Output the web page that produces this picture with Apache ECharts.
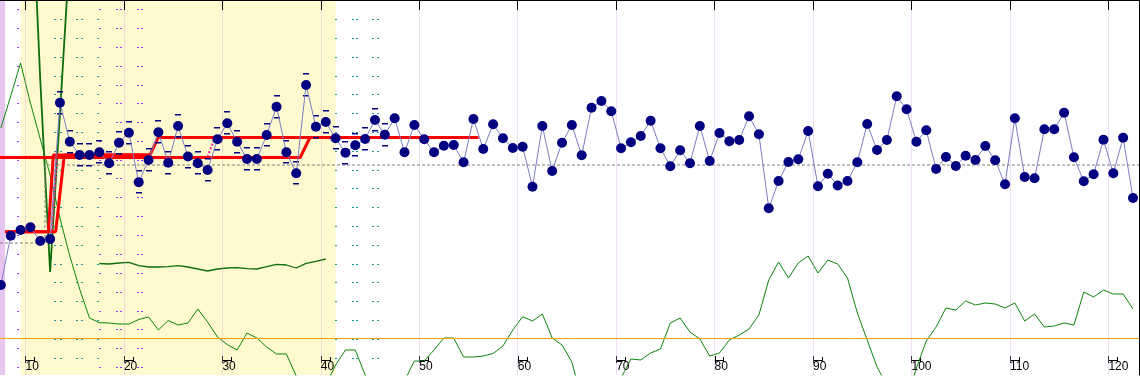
<!DOCTYPE html>
<html><head><meta charset="utf-8">
<script src="https://cdn.jsdelivr.net/npm/echarts@6/dist/echarts.min.js"></script>
<style>html,body{margin:0;padding:0;background:#fff;}#c{width:1140px;height:376px;}</style>
</head><body><div id="c"></div>
<script>
// ---- data (y values in chart units, axis is inverted) ----
const firstPoint = 7;               // id of first plotted point
const values = [
  285, 235.7, 230, 227.3, 241, 239, 102.7, 141.7, 155, 155,
  152.3, 163.3, 142.7, 132.7, 182.3, 160, 132.3, 162.7, 126, 156.5,
  163.3, 170, 139.3, 123.3, 141.7, 159, 159, 135, 106.7, 152.3,
  173.3, 85, 126.7, 122, 138.3, 152.7, 145.3, 139, 120, 134.7,
  118.3, 152.3, 125, 139.3, 152.3, 145.7, 145, 162.3, 119, 149,
  124.3, 138.3, 148, 146.7, 186.7, 126, 171, 142.7, 125, 155.3,
  107.7, 101, 111.2, 148.2, 142.2, 136, 120.7, 148.3, 166.3, 150.3,
  163.3, 126, 161, 133, 141.3, 140, 116.3, 134.3, 208.3, 181,
  162, 159.3, 131, 186.3, 173.7, 185.5, 181, 162.3, 124, 150,
  140, 96.3, 109.3, 141.7, 130.3, 169, 157, 166, 155.7, 160,
  146, 160.3, 184.3, 118.3, 177, 178.3, 129.3, 129.3, 112.7, 157.3,
  181.3, 174.3, 139.7, 173.3, 137.7, 198
];
const errorBarFirst = 13, errorBarLast = 46;

const lowerGreenFirst = 7;
const lowerGreen = [
  128, 96, 63, 103, 139, 175, 218, 256, 289, 318,
  322.7, 323, 324, 324, 319.5, 317, 330, 320.5, 325, 323,
  309, 322, 337, 344.6, 350, 333, 338, 347, 354, 354,
  376, 400, 395, 385, 365, 350, 350, 375, 400, 420,
  410, 381, 361, 361, 350, 338, 338, 357, 357, 356,
  353.5, 346, 330, 316.7, 321, 314, 338, 345, 362, 400,
  420, 420, 400, 378, 359, 360, 353, 349, 323, 318,
  332, 339, 356, 353, 340, 335, 329, 315, 280, 262,
  278, 263, 256, 273, 260, 264, 278, 313, 340, 367,
  385, 410, 400, 368, 341, 327, 308, 310, 301, 305,
  303, 304, 308, 303, 321, 314, 327, 326, 323, 325,
  292, 297, 290, 294, 294, 309
];
const midGreenFirst = 17;
const midGreen = [263.5, 264, 263, 262.3, 265.7, 267, 267, 266.7, 265.7, 267,
  269, 271, 269, 268, 267.7, 268.7, 269, 266.7, 264.3, 265, 268, 263.3, 261.3, 259];
const spikeGreenFirst = 10;
const spikeGreen = [-143, 80, 272, 114, -50];

// step / level lines: [position, level]
const redLevelA = [[7.92,231.7],[12.32,231.7],[12.83,155],[22.65,155],[23.47,137.5],[56,137.5]];
const redLevelB = [[7.41,157.5],[37.9,157.5],[38.9,137.5],[56,137.5]];
const redLevelC = [[7.92,231.7],[13.07,231.7],[13.94,155],[22.65,155]];
const pinkLevel = [[7.92,231.7],[12.66,231.7],[13.2,157.5],[28.45,157.5],[29.25,137.5],[56,137.5]];
const grayLevel = [[7.41,243],[11.98,243],[11.98,165],[123.11,165]];
const orangeLimit = 338.5;

const tickValues = [10,20,30,40,50,60,70,80,90,100,110,120];
const shadedRange = [9.5, 41.5];
const edgeRange = [7.41, 7.92];
const xMin = 7.41, xMax = 123.11;

// decorative minor marks
const purpleCols = [9.24, 17.52, 19.3, 19.7, 21.38, 21.84];
const tealCols = [13.0, 13.56, 15.23, 15.69, 17.4, 41.5, 43.25, 43.66, 45.35, 45.85];
const purpleRows = [9,28,47,66,85,103,122,141,160,178,197,216,235,254,273,292,311,329,348,367];
const tealRows = [19,38,57,76,94,113,132,151,170,188,207,226,245,264,282,301,320,339,358];

// ---- build ----
const toPts = (first, arr) => arr.map((v, i) => [first + i + 0.5, v]);
const mainPts = toPts(firstPoint, values);
const errPts = mainPts.filter((p, i) => firstPoint + i >= errorBarFirst && firstPoint + i <= errorBarLast);
const marks = [];
purpleCols.forEach(c => purpleRows.forEach(r => marks.push([c, r, 0])));
tealCols.forEach(c => tealRows.forEach(r => marks.push([c, r, 1])));

const chart = echarts.init(document.getElementById('c'), null, {renderer: 'canvas'});
const lineBase = {type: 'line', symbol: 'none', silent: true, animation: false};
chart.setOption({
  animation: false,
  grid: {left: 0, top: 0, width: 1139, height: 375, containLabel: false},
  xAxis: [{
    type: 'value', min: xMin, max: xMax, position: 'bottom', z: 20,
    axisLine: {show: true, lineStyle: {color: '#000', width: 1}},
    axisTick: {show: false},
    splitLine: {show: false},
    axisLabel: {show: true, inside: true, customValues: tickValues, align: 'left', margin: 2,
      fontSize: 12, color: '#000', fontFamily: 'Liberation Sans, Arial, sans-serif'}
  }, {
    type: 'value', min: xMin, max: xMax, position: 'top', z: 20,
    axisLine: {show: true, lineStyle: {color: '#000', width: 1}},
    axisTick: {show: true, inside: true, length: 10, customValues: tickValues, lineStyle: {color: '#000'}},
    axisLabel: {show: false}, splitLine: {show: false}
  }],
  yAxis: {
    type: 'value', min: 0, max: 375, inverse: true, position: 'right', z: 20,
    axisLine: {show: true, lineStyle: {color: '#000', width: 1}},
    axisTick: {show: false}, axisLabel: {show: false}, splitLine: {show: false}
  },
  series: [
    { ...lineBase, name: 'bg', data: [], z: 0,
      markArea: {silent: true, itemStyle: {opacity: 1}, data: [
        [{xAxis: shadedRange[0], itemStyle: {color: '#fff9cf'}}, {xAxis: shadedRange[1]}],
        [{xAxis: edgeRange[0], itemStyle: {color: '#e6c6ef'}}, {xAxis: edgeRange[1]}]
      ]}
    },
    { ...lineBase, name: 'grid', data: [], z: 1,
      markLine: {silent: true, symbol: ['none','none'], label: {show: false}, animation: false,
        data: tickValues.map(v => ({xAxis: v, lineStyle: {color: 'rgba(210,150,225,0.32)', width: 1, type: 'solid'}}))
          .concat([{yAxis: orangeLimit, lineStyle: {color: '#ffa500', width: 1, type: 'solid'}}])
      }
    },
    { type: 'custom', name: 'marks', z: 2, silent: true, data: marks, encode: {x: 0, y: 1},
      renderItem: (p, api) => {
        const c = api.coord([api.value(0), api.value(1)]);
        return {type: 'rect', shape: {x: Math.round(c[0]) - 1, y: Math.round(c[1]), width: 2, height: 1},
          style: {fill: api.value(2) ? '#169a9a' : '#9a3cf0'}};
      }
    },
    { type: 'custom', name: 'brackets', z: 3, silent: true, data: tickValues.map(v => [v, 360]), encode: {x: 0, y: 1},
      renderItem: (p, api) => {
        const v = api.value(0);
        const a = Math.round(api.coord([v, 360])[0]) + 0.5;
        const b = Math.round(api.coord([v + 0.9, 360])[0]) + 0.5;
        const st = {stroke: '#000', lineWidth: 1};
        return {type: 'group', children: [
          {type: 'line', shape: {x1: a, y1: 356, x2: a, y2: 363}, style: st},
          {type: 'line', shape: {x1: a, y1: 360.5, x2: b, y2: 360.5}, style: st},
          {type: 'line', shape: {x1: b, y1: 357, x2: b, y2: 362}, style: st}
        ]};
      }
    },
    { ...lineBase, name: 'lowerGreen', z: 4, data: toPts(lowerGreenFirst, lowerGreen), lineStyle: {color: '#0a870a', width: 1} },
    { ...lineBase, name: 'midGreen', z: 4, data: toPts(midGreenFirst, midGreen), lineStyle: {color: '#0b6e0b', width: 1.3} },
    { ...lineBase, name: 'spikeGreen', z: 4, data: toPts(spikeGreenFirst, spikeGreen), lineStyle: {color: '#0b6e0b', width: 1.8} },
    { ...lineBase, name: 'grayLevel', z: 5, data: grayLevel, lineStyle: {color: '#808080', width: 1, type: [3, 2]} },
    { ...lineBase, name: 'pinkLevel', z: 5, data: pinkLevel, lineStyle: {color: '#ff2a9a', width: 2, type: [2, 2]} },
    { ...lineBase, name: 'redA', z: 6, data: redLevelA, lineStyle: {color: '#ff0000', width: 3} },
    { ...lineBase, name: 'redB', z: 6, data: redLevelB, lineStyle: {color: '#ff0000', width: 3} },
    { ...lineBase, name: 'redC', z: 6, data: redLevelC, lineStyle: {color: '#ff0000', width: 3} },
    { type: 'custom', name: 'errorBars', z: 7, silent: true, data: errPts, encode: {x: 0, y: 1},
      renderItem: (p, api) => {
        const c = api.coord([api.value(0), api.value(1)]);
        const x = Math.round(c[0]) - 3;
        return {type: 'group', children: [
          {type: 'rect', shape: {x: x, y: Math.round(c[1]) - 12, width: 6, height: 1.5}, style: {fill: '#000080'}},
          {type: 'rect', shape: {x: x, y: Math.round(c[1]) + 10, width: 6, height: 1.5}, style: {fill: '#000080'}}
        ]};
      }
    },
    { type: 'line', name: 'values', z: 10, animation: false, silent: true, data: mainPts,
      symbol: 'circle', symbolSize: 10, showAllSymbol: true,
      lineStyle: {color: '#7b7bc4', width: 1},
      itemStyle: {color: '#000080', borderWidth: 0} }
  ]
});
</script>
</body></html>
